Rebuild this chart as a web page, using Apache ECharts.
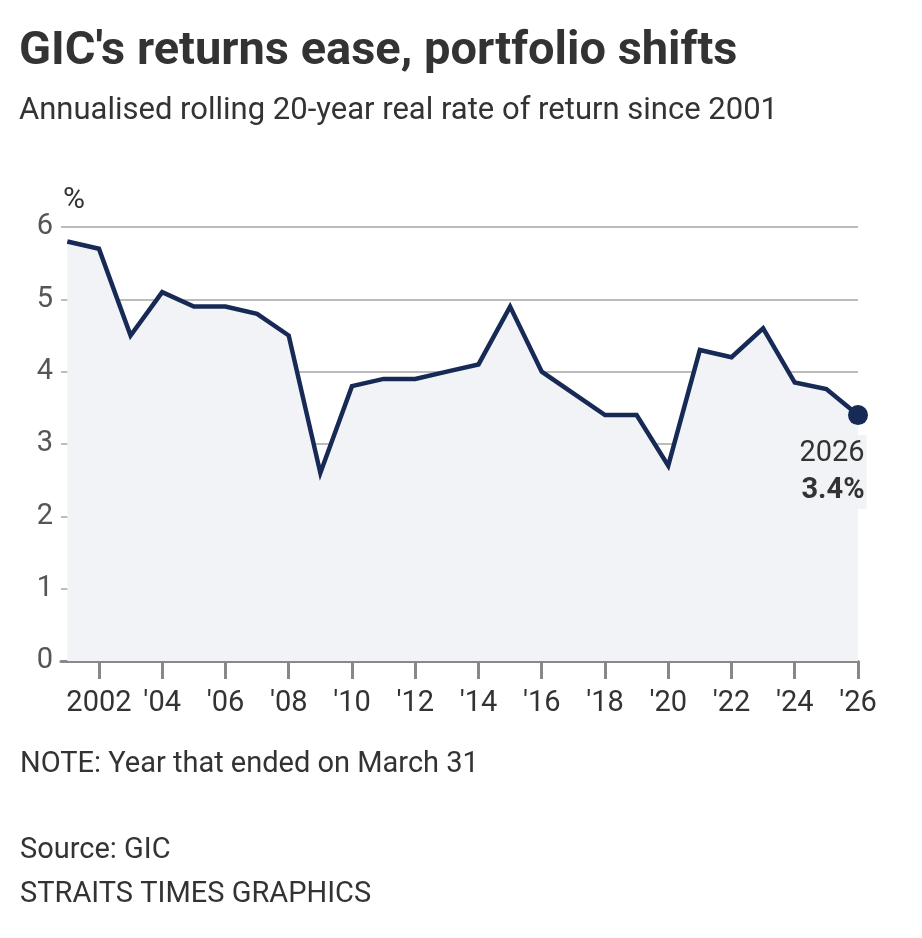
<!DOCTYPE html>
<html>
<head>
<meta charset="utf-8">
<script src="https://cdn.jsdelivr.net/npm/echarts@6/dist/echarts.min.js"></script>
<style>
  html, body { margin: 0; padding: 0; background: #fff; }
  #chart { width: 922px; height: 938px; }
</style>
</head>
<body>
<div id="chart"></div>
<script>
  // 20-year rolling real return, year ended March 31
  const years = [2001, 2002, 2003, 2004, 2005, 2006, 2007, 2008, 2009, 2010, 2011, 2012, 2013,
    2014, 2015, 2016, 2017, 2018, 2019, 2020, 2021, 2022, 2023, 2024, 2025, 2026];
  const returns = [5.8, 5.7, 4.5, 5.1, 4.9, 4.9, 4.8, 4.5, 2.6, 3.8, 3.9, 3.9, 4.0,
    4.1, 4.9, 4.0, 3.7, 3.4, 3.4, 2.7, 4.3, 4.2, 4.6, 3.85, 3.76, 3.4];
  const tickYears = [2002, 2004, 2006, 2008, 2010, 2012, 2014, 2016, 2018, 2020, 2022, 2024, 2026];
  const tickLabels = ['2002', "'04", "'06", "'08", "'10", "'12", "'14", "'16", "'18", "'20", "'22", "'24", "'26"];
  const yTicks = [0, 1, 2, 3, 4, 5, 6];

  const font = 'Roboto, "Noto Sans", sans-serif';
  const navy = '#172a56';
  const last = returns.length - 1;

  const chart = echarts.init(document.getElementById('chart'));

  const seriesData = years.map((y, i) => {
    if (i !== last) return [y, returns[i]];
    return {
      value: [y, returns[i]],
      symbol: 'circle',
      symbolSize: 20,
      itemStyle: { color: navy },
      label: {
        show: true,
        position: 'bottom',
        distance: 10,
        offset: [-26, 0],
        align: 'center',
        backgroundColor: '#f1f3f6',
        padding: [0, 2, 0, 2],
        formatter: () => '{y|' + y + '}\n{v|' + returns[i] + '%}',
        rich: {
          y: { fontFamily: font, fontSize: 29, color: '#333', lineHeight: 38, align: 'right' },
          v: { fontFamily: font, fontSize: 29, fontWeight: 'bold', color: '#333', lineHeight: 36, align: 'right' }
        }
      }
    };
  });

  const option = {
    backgroundColor: '#fff',
    animation: false,
    title: [
      {
        text: "GIC's returns ease, portfolio shifts",
        left: 14, top: 24,
        textStyle: { fontFamily: font, fontSize: 47, fontWeight: 'bold', color: '#333' }
      },
      {
        text: 'Annualised rolling 20-year real rate of return since 2001',
        left: 14, top: 91,
        textStyle: { fontFamily: font, fontSize: 31, fontWeight: 'normal', color: '#333' }
      },
      {
        text: 'NOTE: Year that ended on March 31',
        left: 15, top: 745,
        textStyle: { fontFamily: font, fontSize: 29, fontWeight: 'normal', color: '#333' }
      },
      {
        text: 'Source: GIC',
        left: 15, top: 831,
        textStyle: { fontFamily: font, fontSize: 29, fontWeight: 'normal', color: '#333' }
      },
      {
        text: 'STRAITS TIMES GRAPHICS',
        left: 15, top: 875,
        textStyle: { fontFamily: font, fontSize: 29, fontWeight: 'normal', color: '#333' }
      }
    ],
    grid: { left: 61, right: 64, top: 227, bottom: 277, containLabel: false },
    xAxis: {
      type: 'value',
      min: 2000.8,
      max: 2026,
      splitLine: { show: false },
      axisLine: { show: true, lineStyle: { color: '#888', width: 3 } },
      axisTick: { show: true, customValues: tickYears, length: 18, lineStyle: { color: '#888', width: 3 } },
      axisLabel: {
        show: true,
        customValues: tickYears,
        margin: 28,
        fontFamily: font, fontSize: 29, color: '#333',
        formatter: v => tickLabels[tickYears.indexOf(Math.round(v))] || ''
      }
    },
    yAxis: {
      type: 'value',
      min: yTicks[0],
      max: yTicks[yTicks.length - 1],
      interval: 1,
      name: '%',
      nameLocation: 'end',
      nameGap: 12,
      nameTextStyle: { fontFamily: font, fontSize: 30, color: '#333', align: 'left', padding: [0, 0, 0, 2] },
      axisLine: { show: false },
      axisTick: { show: false },
      axisLabel: { margin: 8, fontFamily: font, fontSize: 29, color: '#555' },
      splitLine: { lineStyle: { color: '#a6a6a6', width: 1.5 } }
    },
    series: [
      {
        type: 'line',
        data: seriesData,
        symbol: 'none',
        showSymbol: true,
        lineStyle: { color: navy, width: 4.5, join: 'miter' },
        areaStyle: { color: '#f1f3f6', opacity: 1 },
        z: 3
      }
    ]
  };

  chart.setOption(option);
</script>
</body>
</html>
